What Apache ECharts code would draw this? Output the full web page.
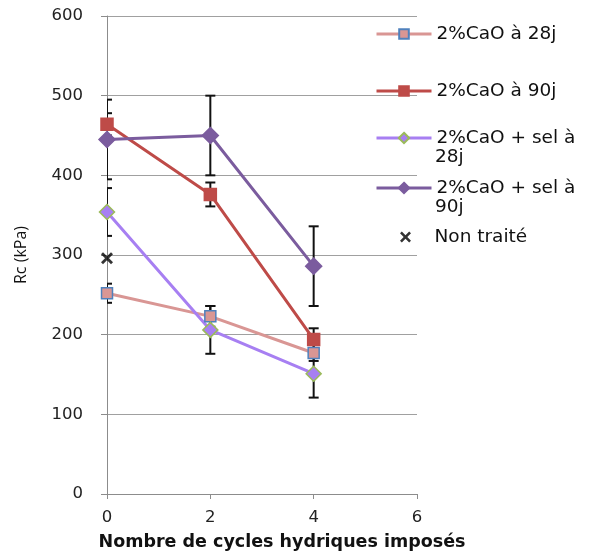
<!DOCTYPE html>
<html>
<head>
<meta charset="utf-8">
<script src="https://cdn.jsdelivr.net/npm/echarts@6/dist/echarts.min.js"></script>
<style>
  html, body { margin: 0; padding: 0; background: #fff; }
  #chart { width: 590px; height: 553px; }
</style>
</head>
<body>
<div id="chart"></div>
<script>
// Number of imposed wetting/drying cycles
const cycles = [0, 2, 4];

// Compressive strength Rc (kPa) per treatment
const names = ['2%CaO à 28j', '2%CaO à 90j', '2%CaO + sel à 28j', '2%CaO + sel à 90j'];
const cao28 = [252, 223, 177];
const cao90 = [464, 376, 194];
const caoSel28 = [354, 206, 151];
const caoSel90 = [445, 450, 286];

// Error bar half-widths (kPa)
const cao28Err = [12, 13, 10];
const cao90Err = [14, 15, 14];
const caoSel28Err = [30, 30, 30];
const caoSel90Err = [50, 50, 50];

// Untreated soil (single point)
const untreatedName = 'Non traité';
const untreated = [[0, 296]];

// Axis ticks
const yTicks = [0, 100, 200, 300, 400, 500, 600];
const xTicks = [0, 2, 4, 6];

const pts = (vals) => cycles.map((c, i) => [c, vals[i]]);
const errPts = (vals, errs) => cycles.map((c, i) => [c, vals[i] - errs[i], vals[i] + errs[i]]);

const styles = [
  { color: '#d99694', symbol: 'rect', size: 11, border: '#4f81bd' },
  { color: '#be4b48', symbol: 'rect', size: 12, border: '#be4b48' },
  { color: '#a77ff2', symbol: 'diamond', size: 15, border: '#9bbb59' },
  { color: '#7b5c9e', symbol: 'diamond', size: 16, border: '#7b5c9e' }
];
const values = [cao28, cao90, caoSel28, caoSel90];
const errors = [cao28Err, cao90Err, caoSel28Err, caoSel90Err];

const lineSeries = names.map((n, k) => ({
  name: n,
  type: 'line',
  data: pts(values[k]),
  symbol: styles[k].symbol,
  symbolSize: styles[k].size,
  z: 3,
  lineStyle: { color: styles[k].color, width: 3 },
  itemStyle: { color: styles[k].color, borderColor: styles[k].border, borderWidth: 1.5 },
  emphasis: { disabled: true }
}));

// Error bars, clipped to the plotting area
const errorSeries = names.map((n, k) => ({
  type: 'custom',
  name: n + ' (écart)',
  z: 2,
  silent: true,
  clip: true,
  data: errPts(values[k], errors[k]),
  renderItem: function (params, api) {
    const lo = api.coord([api.value(0), api.value(1)]);
    const hi = api.coord([api.value(0), api.value(2)]);
    const cap = 5;
    const st = { stroke: '#111', lineWidth: 2 };
    return {
      type: 'group',
      children: [
        { type: 'line', shape: { x1: hi[0], y1: hi[1], x2: lo[0], y2: lo[1] }, style: st },
        { type: 'line', shape: { x1: hi[0] - cap, y1: hi[1], x2: hi[0] + cap, y2: hi[1] }, style: st },
        { type: 'line', shape: { x1: lo[0] - cap, y1: lo[1], x2: lo[0] + cap, y2: lo[1] }, style: st }
      ]
    };
  }
}));

const crossSymbol = 'path://M0,2 L2,0 L6,4 L10,0 L12,2 L8,6 L12,10 L10,12 L6,8 L2,12 L0,10 L4,6 Z';
const untreatedSeries = {
  name: untreatedName,
  type: 'scatter',
  data: untreated,
  symbol: crossSymbol,
  symbolSize: 12,
  itemStyle: { color: '#000' },
  z: 4
};

const legendFont = { fontFamily: 'DejaVu Sans', fontSize: 18.5, color: '#111' };
function legendItem(name, centerY, firstLine, opts) {
  const o = Object.assign({ left: 375, itemWidth: 55, itemHeight: 12, icon: null }, opts || {});
  return {
    data: [o.icon ? { name: name, icon: o.icon } : name],
    orient: 'vertical',
    left: o.left,
    top: centerY - 11,
    padding: 0,
    itemWidth: o.itemWidth,
    itemHeight: o.itemHeight,
    itemGap: 0,
    symbolKeepAspect: true,
    selectedMode: false,
    lineStyle: { width: 3 },
    formatter: firstLine ? () => firstLine : undefined,
    textStyle: Object.assign({ lineHeight: 22, height: 22 }, legendFont)
  };
}

const chart = echarts.init(document.getElementById('chart'), null, { renderer: 'canvas' });
chart.setOption({
  animation: false,
  backgroundColor: '#fff',
  grid: { left: 107, right: 173, top: 16, bottom: 59, containLabel: false, outerBoundsMode: 'none' },
  xAxis: {
    type: 'value',
    min: xTicks[0],
    max: xTicks[xTicks.length - 1],
    interval: 2,
    name: 'Nombre de cycles hydriques imposés',
    nameLocation: 'middle',
    nameGap: 39,
    nameTextStyle: { fontFamily: 'DejaVu Sans', fontWeight: 'bold', fontSize: 17.5, color: '#111', padding: [0, 0, 0, 40] },
    axisLine: { lineStyle: { color: '#8c8c8c', width: 1 } },
    axisTick: { show: true, length: 5, lineStyle: { color: '#8c8c8c' } },
    axisLabel: { fontFamily: 'DejaVu Sans', fontSize: 16.5, color: '#222', margin: 15 },
    splitLine: { show: false }
  },
  yAxis: {
    type: 'value',
    min: yTicks[0],
    max: yTicks[yTicks.length - 1],
    interval: 100,
    name: 'Rc (kPa)',
    nameLocation: 'middle',
    nameGap: 78,
    nameRotate: 90,
    nameTextStyle: { fontFamily: 'Open Sans', fontSize: 16, color: '#111' },
    axisLine: { show: true, lineStyle: { color: '#8c8c8c', width: 1 } },
    axisTick: { show: true, length: 6, inside: false, lineStyle: { color: '#8c8c8c' } },
    axisLabel: { fontFamily: 'DejaVu Sans', fontSize: 16.5, color: '#222', margin: 24 },
    splitLine: { show: true, lineStyle: { color: '#a0a0a0', width: 1 } }
  },
  legend: [
    legendItem(names[0], 34),
    legendItem(names[1], 91),
    legendItem(names[2], 138, '2%CaO + sel à', { itemHeight: 13 }),
    legendItem(names[3], 188, '2%CaO + sel à', { itemHeight: 13 }),
    legendItem(untreatedName, 237, null, { left: 400, itemWidth: 48, itemHeight: 11, icon: crossSymbol })
  ],
  graphic: [
    { type: 'text', left: 435, top: 148, style: Object.assign({ text: '28j' }, legendFont, { fill: '#111' }) },
    { type: 'text', left: 435, top: 198, style: Object.assign({ text: '90j' }, legendFont, { fill: '#111' }) }
  ],
  series: [...errorSeries, ...lineSeries, untreatedSeries]
});
</script>
</body>
</html>
